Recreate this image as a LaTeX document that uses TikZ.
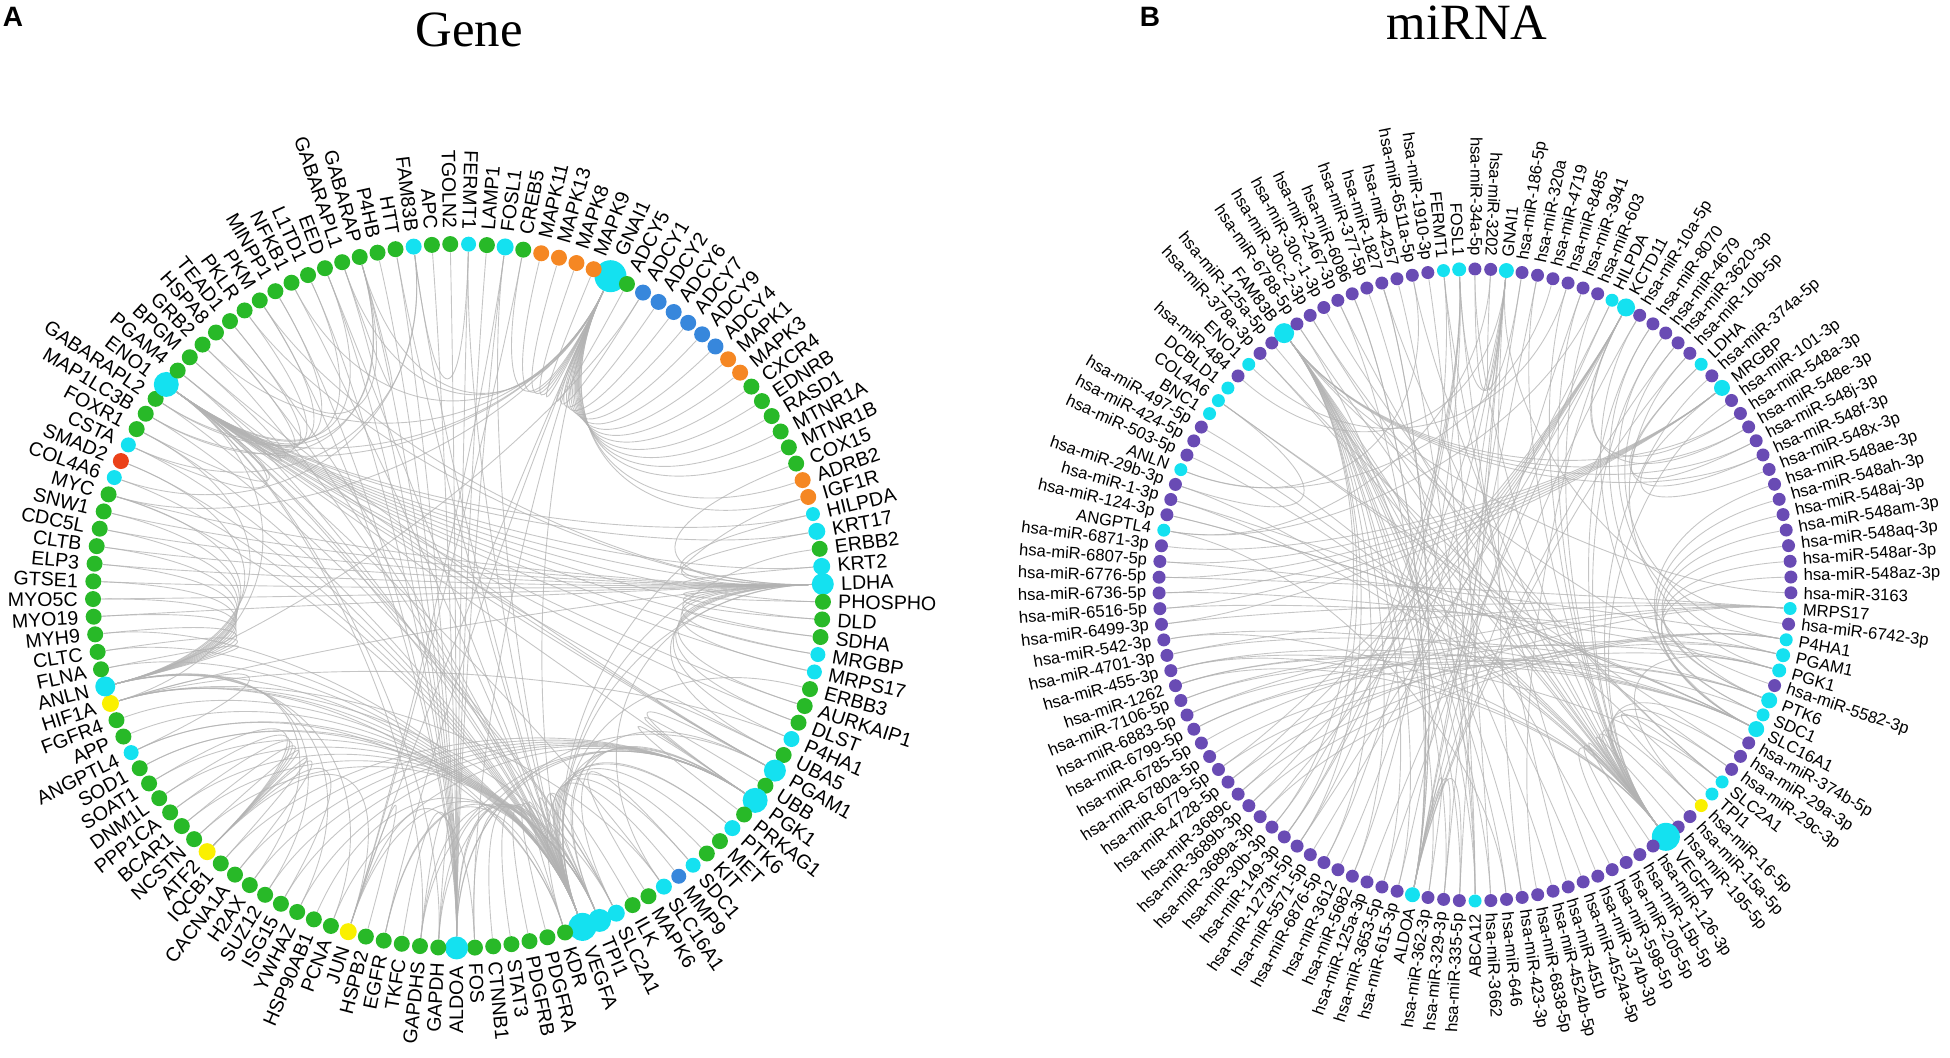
\documentclass[tikz,border=0pt]{standalone}
\usepackage{fontspec}
\setmainfont{Liberation Sans}
\newfontfamily\serifttl{Liberation Serif}
\usetikzlibrary{calc}
\pgfdeclarelayer{bg}
\pgfsetlayers{bg,main}
\definecolor{gn}{RGB}{40,185,40}
\definecolor{cy}{RGB}{20,225,240}
\definecolor{og}{RGB}{245,135,35}
\definecolor{bl}{RGB}{55,135,220}
\definecolor{rd}{RGB}{235,65,25}
\definecolor{yl}{RGB}{250,240,0}
\definecolor{pu}{RGB}{105,75,180}
\tikzset{
  dot/.style={circle, inner sep=0pt, minimum size=#1*0.5pt},
  link/.style={draw=black!30, line width=0.45pt, opacity=0.75},
  gname/.style={inner sep=0pt, font=\fontsize{9.8}{11}\selectfont},
  mname/.style={inner sep=0pt, font=\fontsize{8.3}{9}\selectfont},
  panel/.style={font=\bfseries\fontsize{14}{16}\selectfont},
  ttl/.style={font=\serifttl\fontsize{25.4}{28}\selectfont, anchor=base}
}
\begin{document}
\begin{tikzpicture}[x=0.5pt, y=0.5pt]
\useasboundingbox (0,0) rectangle (1950,1058);
\node[panel] (pA) at (13,1041) {A};
\node[panel] (pB) at (1150,1041) {B};
\node[ttl] (tG) at (469,1011) {Gene};
\node[ttl] (tM) at (1467,1018) {miRNA};

% gene circle
\coordinate (cG) at (458,462);
\foreach \nm/\col/\sz [count=\k] in {GNAI1/cy/32, ADCY5/gn/16, ADCY1/bl/16, ADCY2/bl/16, ADCY6/bl/16, ADCY7/bl/16, ADCY9/bl/16, ADCY4/bl/16, MAPK1/og/16, MAPK3/og/16,
  CXCR4/gn/16, EDNRB/gn/16, RASD1/gn/16, MTNR1A/gn/16, MTNR1B/gn/16, COX15/gn/16, ADRB2/og/16, IGF1R/og/16, HILPDA/cy/14, KRT17/cy/17,
  ERBB2/gn/16, KRT2/cy/17, LDHA/cy/22, PHOSPHO/gn/16, DLD/gn/16, SDHA/gn/16, MRGBP/cy/15, MRPS17/cy/15, ERBB3/gn/16, AURKAIP1/gn/16,
  DLST/gn/16, P4HA1/cy/16, UBA5/gn/16, PGAM1/cy/22, UBB/gn/16, PGK1/cy/25, PRKAG1/gn/16, PTK6/cy/16, MET/gn/16, KIT/gn/16,
  SDC1/cy/15, MMP9/bl/15, SLC16A1/cy/16, MAPK6/gn/16, ILK/gn/16, SLC2A1/cy/17, TPI1/cy/23, VEGFA/cy/28, KDR/gn/16, PDGFRA/gn/16,
  PDGFRB/gn/16, STAT3/gn/16, CTNNB1/gn/16, FOS/gn/16, ALDOA/cy/23, GAPDH/gn/16, GAPDHS/gn/16, TKFC/gn/16, EGFR/gn/16, HSPB2/gn/16,
  JUN/yl/17, PCNA/gn/16, HSP90AB1/gn/16, YWHAZ/gn/16, ISG15/gn/16, SUZ12/gn/16, H2AX/gn/16, CACNA1A/gn/16, IQCB1/gn/16, ATF2/yl/17,
  NCSTN/gn/16, BCAR1/gn/16, PPP1CA/gn/16, DNM1L/gn/16, SOAT1/gn/16, SOD1/gn/16, ANGPTL4/cy/15, APP/gn/16, FGFR4/gn/16, HIF1A/yl/17,
  ANLN/cy/20, FLNA/gn/16, CLTC/gn/16, MYH9/gn/16, MYO19/gn/16, MYO5C/gn/16, GTSE1/gn/16, ELP3/gn/16, CLTB/gn/16, CDC5L/gn/16,
  SNW1/gn/16, MYC/gn/16, COL4A6/cy/15, SMAD2/rd/16, CSTA/cy/15, FOXR1/gn/16, MAP1LC3B/gn/16, GABARAPL2/gn/16, ENO1/cy/25, PGAM4/gn/16,
  BPGM/gn/16, GRB2/gn/16, HSPA8/gn/16, TEAD1/gn/16, PKLR/gn/16, PKM/gn/16, MINPP1/gn/16, NFKB1/gn/16, L1TD1/gn/16, EED/gn/16,
  GABARAPL1/gn/16, GABARAP/gn/16, P4HB/gn/16, HTT/gn/16, FAM83B/cy/16, APC/gn/16, TGOLN2/gn/16, FERMT1/cy/15, LAMP1/gn/16, FOSL1/cy/17,
  CREB5/gn/16, MAPK11/og/16, MAPK13/og/16, MAPK8/og/16, MAPK9/og/16}{
  \pgfmathsetmacro\ang{65.3-(\k-1)*2.88}
  \pgfmathtruncatemacro\side{or(\k<55,\k>118)}
  \node[dot=\sz, fill=\col] (g\k) at ($(cG)+(\ang:365 and 352)$) {};
  \ifnum\side=1
    \node[gname, rotate=\ang, anchor=west] (gt\k) at ($(g\k)+(\ang:{\sz/2+7})$) {\nm};
  \else
    \node[gname, rotate=\ang+180, anchor=east] (gt\k) at ($(g\k)+(\ang:{\sz/2+7})$) {\nm};
  \fi
}
\begin{pgfonlayer}{bg}
\foreach \p/\q in {1/2,1/3,1/4,1/5,1/6,1/7,1/8,1/9,1/10,1/11,1/12,1/13,1/14,1/15,1/17,1/18,1/121,1/122,1/123,1/124,1/125,1/112,1/111,1/98,1/97,
  1/59,1/61,1/54,1/92,1/108,1/102,
  48/49,48/50,48/51,48/52,48/53,48/54,48/59,48/21,48/29,48/42,48/39,48/40,48/80,48/77,48/79,48/61,48/76,48/78,48/94,48/92,48/108,48/102,48/63,48/45,48/41,48/38,48/18,48/120,
  48/1,48/23,48/99,48/55,48/36,48/47,48/81,48/115,48/118,48/95,48/93,48/103,48/104,48/82,48/83,48/84,48/96,48/100,48/110,48/114,
  23/24,23/25,23/26,23/27,23/28,23/30,23/31,23/32,23/33,23/19,23/20,23/22,23/16,23/43,23/106,23/105,23/99,23/80,23/92,
  23/85,23/86,23/87,23/88,23/89,23/90,23/91,
  99/100,99/101,99/106,99/105,99/107,99/104,99/103,99/96,99/95,99/56,99/57,99/47,99/36,99/34,99/110,99/109,
  99/27,99/28,99/24,99/25,99/26,99/30,99/31,99/33,99/20,99/22,99/19,99/43,99/80,
  55/56,55/57,55/58,55/47,55/36,55/34,55/106,55/114,55/117,55/119,55/116,55/113,55/110,55/111,55/112,55/118,55/120,55/107,55/109,
  36/34,36/35,36/37,36/56,36/57,36/47,36/46,36/62,36/64,36/65,36/66,36/67,36/68,36/69,
  34/33,34/101,34/100,34/47,47/56,47/57,47/46,47/71,47/72,47/73,47/74,47/75,47/76,
  81/82,81/83,81/84,81/85,81/86,81/87,81/88,81/89,81/90,81/91,81/62,81/66,81/67,81/64,81/92,81/94,81/96,81/3,
  80/77,80/46,80/43,80/32,112/111,112/98,112/97,112/103,49/80,49/77,49/59,49/38,46/97,46/98,
  61/54,61/70,61/60,61/120,61/121,70/69,70/71,70/72,70/73,70/74,70/75,70/68,70/65,
  115/118,115/93,115/95,41/44}{
  \draw[link] (g\p) .. controls ($(g\p)!0.5!(cG)$) and ($(g\q)!0.5!(cG)$) .. (g\q);
}
\end{pgfonlayer}

% miRNA circle
\coordinate (cM) at (1475,473);
\foreach \nm/\col/\sz [count=\k] in {GNAI1/cy/15, hsa-miR-186-5p/pu/13, hsa-miR-320a/pu/13, hsa-miR-4719/pu/13, hsa-miR-8485/pu/13, hsa-miR-3941/pu/13, hsa-miR-603/pu/13, HILPDA/cy/13, KCTD11/cy/18, hsa-miR-10a-5p/pu/13,
  hsa-miR-8070/pu/13, hsa-miR-4679/pu/13, hsa-miR-3620-3p/pu/13, hsa-miR-10b-5p/pu/13, LDHA/cy/13, hsa-miR-374a-5p/pu/13, MRGBP/cy/16, hsa-miR-101-3p/pu/13, hsa-miR-548a-3p/pu/13, hsa-miR-548e-3p/pu/13,
  hsa-miR-548j-3p/pu/13, hsa-miR-548f-3p/pu/13, hsa-miR-548x-3p/pu/13, hsa-miR-548ae-3p/pu/13, hsa-miR-548ah-3p/pu/13, hsa-miR-548aj-3p/pu/13, hsa-miR-548am-3p/pu/13, hsa-miR-548aq-3p/pu/13, hsa-miR-548ar-3p/pu/13, hsa-miR-548az-3p/pu/13,
  hsa-miR-3163/pu/13, MRPS17/cy/13, hsa-miR-6742-3p/pu/13, P4HA1/cy/13, PGAM1/cy/14, PGK1/cy/14, hsa-miR-5582-3p/pu/13, PTK6/cy/16, SDC1/cy/13, SLC16A1/cy/16,
  hsa-miR-374b-5p/pu/13, hsa-miR-29a-3p/pu/13, hsa-miR-29c-3p/pu/13, SLC2A1/cy/13, TPI1/cy/13, hsa-miR-16-5p/yl/13, hsa-miR-15a-5p/pu/13, hsa-miR-195-5p/pu/13, VEGFA/cy/28, hsa-miR-126-3p/pu/13,
  hsa-miR-15b-5p/pu/13, hsa-miR-205-5p/pu/13, hsa-miR-598-5p/pu/13, hsa-miR-374b-3p/pu/13, hsa-miR-4524a-5p/pu/13, hsa-miR-451b/pu/13, hsa-miR-4524b-5p/pu/13, hsa-miR-6838-5p/pu/13, hsa-miR-423-3p/pu/13, hsa-miR-646/pu/13,
  hsa-miR-3662/pu/13, ABCA12/cy/13, hsa-miR-335-5p/pu/13, hsa-miR-329-3p/pu/13, hsa-miR-362-3p/pu/13, ALDOA/cy/15, hsa-miR-615-3p/pu/13, hsa-miR-3653-5p/pu/13, hsa-miR-125a-3p/pu/13, hsa-miR-5682/pu/13,
  hsa-miR-3612/pu/13, hsa-miR-6876-5p/pu/13, hsa-miR-5571-5p/pu/13, hsa-miR-1273h-5p/pu/13, hsa-miR-149-3p/pu/13, hsa-miR-30b-3p/pu/13, hsa-miR-3689a-3p/pu/13, hsa-miR-3689b-3p/pu/13, hsa-miR-3689c/pu/13, hsa-miR-4728-5p/pu/13,
  hsa-miR-6779-5p/pu/13, hsa-miR-6780a-5p/pu/13, hsa-miR-6785-5p/pu/13, hsa-miR-6799-5p/pu/13, hsa-miR-6883-5p/pu/13, hsa-miR-7106-5p/pu/13, hsa-miR-1262/pu/13, hsa-miR-455-3p/pu/13, hsa-miR-4701-3p/pu/13, hsa-miR-542-3p/pu/13,
  hsa-miR-6499-3p/pu/13, hsa-miR-6516-5p/pu/13, hsa-miR-6736-5p/pu/13, hsa-miR-6776-5p/pu/13, hsa-miR-6807-5p/pu/13, hsa-miR-6871-3p/pu/13, ANGPTL4/cy/13, hsa-miR-124-3p/pu/13, hsa-miR-1-3p/pu/13, hsa-miR-29b-3p/pu/13,
  ANLN/cy/13, hsa-miR-503-5p/pu/13, hsa-miR-424-5p/pu/13, hsa-miR-497-5p/pu/13, BNC1/cy/13, COL4A6/cy/13, DCBLD1/cy/13, hsa-miR-484/pu/13, ENO1/cy/13, hsa-miR-378a-3p/pu/13,
  hsa-miR-125a-5p/pu/13, FAM83B/cy/20, hsa-miR-6788-5p/pu/13, hsa-miR-30c-2-3p/pu/13, hsa-miR-30c-1-3p/pu/13, hsa-miR-2467-3p/pu/13, hsa-miR-6086/pu/13, hsa-miR-377-5p/pu/13, hsa-miR-1827/pu/13, hsa-miR-4257/pu/13,
  hsa-miR-6511a-5p/pu/13, hsa-miR-1910-3p/pu/13, FERMT1/cy/13, FOSL1/cy/14, hsa-miR-34a-5p/pu/13, hsa-miR-3202/pu/13}{
  \pgfmathsetmacro\ang{84.3-(\k-1)*2.857143}
  \node[dot=\sz, fill=\col] (m\k) at ($(cM)+(\ang:316)$) {};
  \ifnum\k<62
    \node[mname, rotate=\ang, anchor=west] (mt\k) at ($(m\k)+(\ang:{\sz/2+6})$) {\nm};
  \else
    \node[mname, rotate=\ang+180, anchor=east] (mt\k) at ($(m\k)+(\ang:{\sz/2+6})$) {\nm};
  \fi
}
\begin{pgfonlayer}{bg}
\foreach \p/\q in {2/124,3/66,4/101,5/109,6/66,7/97,10/40,11/38,12/35,13/34,14/36,16/49,18/49,
  19/9,20/9,21/15,22/15,23/17,24/40,25/40,26/40,27/38,28/38,29/39,30/39,31/112,33/1,37/112,
  41/49,42/106,42/49,43/106,43/49,46/49,46/44,46/36,47/49,48/49,
  50/49,51/49,52/49,53/112,54/123,55/112,56/124,57/112,58/9,59/1,60/97,61/123,63/66,64/66,65/66,
  67/1,68/8,69/9,70/124,71/1,72/123,73/8,74/9,75/1,76/112,
  77/34,78/34,79/34,80/32,81/35,82/36,83/32,84/35,85/32,86/36,87/39,88/44,89/32,90/40,91/32,92/35,93/36,94/32,95/34,96/17,
  98/40,99/49,100/49,100/106,102/49,103/49,104/49,108/1,110/45,111/49,
  113/62,114/44,115/44,116/66,117/66,118/62,119/66,120/62,121/101,122/62,125/49,126/97,
  110/49,113/49,114/49,116/49,119/49,121/49,3/49,5/49,6/49,7/49,11/49,12/49,87/49,88/49,90/49,
  67/112,68/112,70/112,72/112,74/112,75/112,59/112,60/112,61/112,63/112,64/112,65/112,19/112,20/112,21/112,22/112,
  2/66,13/66,14/66,10/66,117/66,119/66,77/9,78/9,79/9,80/9,81/9,91/17,92/17,93/17,94/17,95/17,
  86/40,87/40,88/40,98/40,99/40,84/38,85/38,89/38,125/1,126/1,63/1,64/1,74/124,75/124,76/124}{
  \draw[link] (m\p) .. controls ($(m\p)!0.5!(cM)$) and ($(m\q)!0.5!(cM)$) .. (m\q);
}
\end{pgfonlayer}
\end{tikzpicture}
\end{document}
